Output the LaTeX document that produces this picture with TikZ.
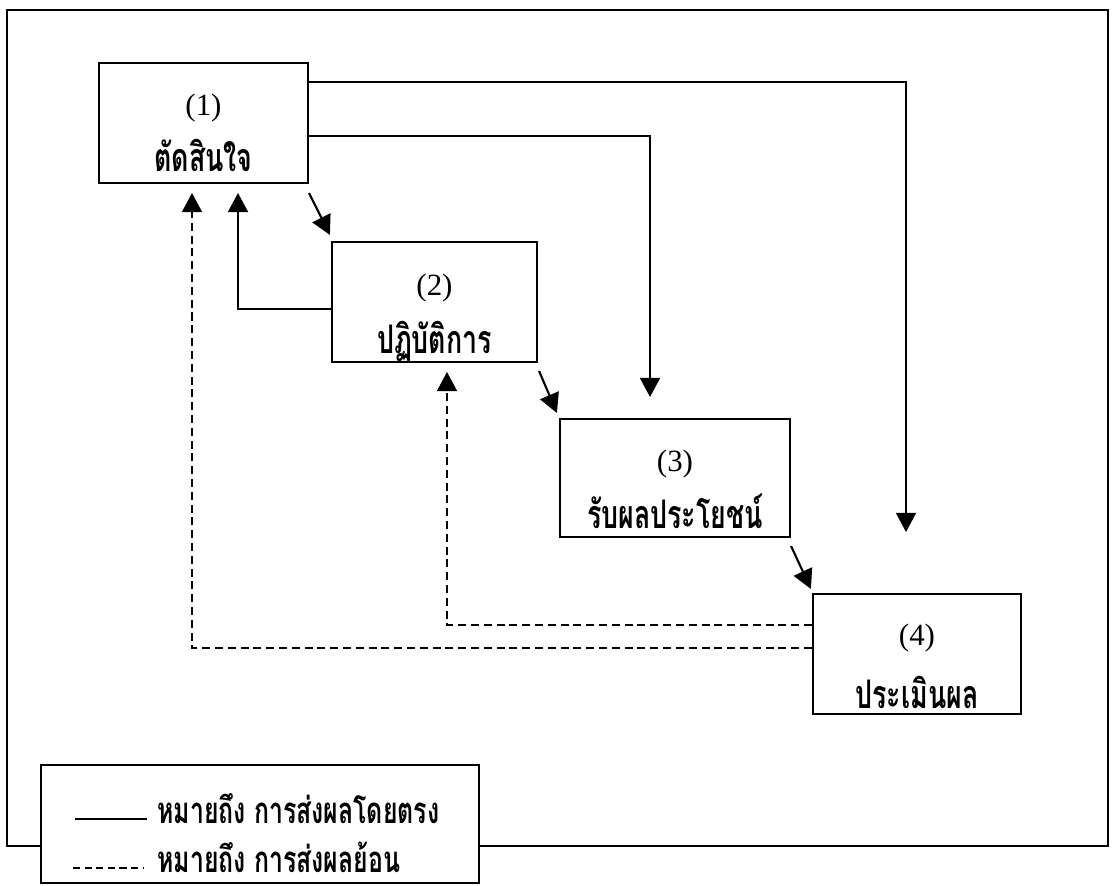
\documentclass[tikz,border=0pt]{standalone}
\usepackage{fontspec}
\setmainfont{Liberation Serif}
\newfontfamily\thai[Script=Thai,FakeStretch=0.68]{Loma}
\usetikzlibrary{arrows.meta}
\tikzset{
  box/.style={draw, line width=1.5pt, inner sep=0pt},
  numtext/.style={inner sep=0pt, font=\fontsize{22pt}{26pt}\selectfont},
  lbltext/.style={inner sep=0pt, anchor=base, font=\thai\bfseries\fontsize{28pt}{32pt}\selectfont},
  legtext/.style={inner sep=0pt, anchor=base west, font=\thai\bfseries\fontsize{26pt}{30pt}\selectfont},
  arr/.style={line width=1.5pt, -{Triangle[length=0.48cm,width=0.5cm]}},
  dasharr/.style={arr, dash pattern=on 0.2cm off 0.12cm},
  frameline/.style={line width=1.5pt}
}
\begin{document}
\begin{tikzpicture}[x=0.025cm,y=-0.025cm]
\useasboundingbox (0,0) rectangle (1112,886);
\fill[white] (0,0) rectangle (1112,886);
% outer frame
\draw[frameline] (7,10) rectangle (1108,846);
% boxes
\node[box, minimum width=5.225cm, minimum height=3cm] (b1) at (203.5,123) {};
\node[box, minimum width=5.125cm, minimum height=3cm] (b2) at (434.5,302) {};
\node[box, minimum width=5.75cm, minimum height=2.95cm] (b3) at (675,478) {};
\node[box, minimum width=5.2cm, minimum height=3cm] (b4) at (917,654) {};
% box texts
\node[numtext] (n1) at (203.5,108) {(1)};
\node[lbltext] (l1) at (203.5,172) {ตัดสินใจ};
\node[numtext] (n2) at (434.5,288) {(2)};
\node[lbltext] (l2) at (434.5,353) {ปฏิบัติการ};
\node[numtext] (n3) at (675,464) {(3)};
\node[lbltext] (l3) at (675,528) {รับผลประโยชน์};
\node[numtext] (n4) at (917,638) {(4)};
\node[lbltext] (l4) at (917,708) {ประเมินผล};
% free ends
\coordinate (t4) at (906,532);
\coordinate (t3) at (650,397);
\coordinate (f21) at (238,193);
\coordinate (f42) at (447,372);
\coordinate (f41) at (192,193);
% direct connectors
\draw[arr] ([yshift=1.025cm]b1.east) -| (t4);
\draw[arr] ([yshift=-0.325cm]b1.east) -| (t3);
\draw[arr] ([yshift=-0.225cm]b1.south east) -- ([shift={(-0.025cm,0.15cm)}]b2.north west);
\draw[arr] ([shift={(0.025cm,-0.2cm)}]b2.south east) -- ([shift={(-0.05cm,0.125cm)}]b3.north west);
\draw[arr] ([yshift=-0.2cm]b3.south east) -- ([shift={(-0.025cm,0.1cm)}]b4.north west);
\draw[arr] ([yshift=-0.175cm]b2.west) -| (f21);
% feedback connectors
\draw[dasharr] ([yshift=0.725cm]b4.west) -| (f42);
\draw[dasharr] ([yshift=0.15cm]b4.west) -| (f41);
% legend
\node[box, fill=white, minimum width=10.95cm, minimum height=2.95cm] (lg) at (260,824) {};
\draw[line width=1.5pt] (75,819) -- (147,819);
\draw[line width=1.5pt, dash pattern=on 0.18cm off 0.11cm] (73,868) -- (143,868);
\node[legtext] (lt1) at (157,823) {หมายถึง การส่งผลโดยตรง};
\node[legtext] (lt2) at (157,872) {หมายถึง การส่งผลย้อน};
\end{tikzpicture}
\end{document}
